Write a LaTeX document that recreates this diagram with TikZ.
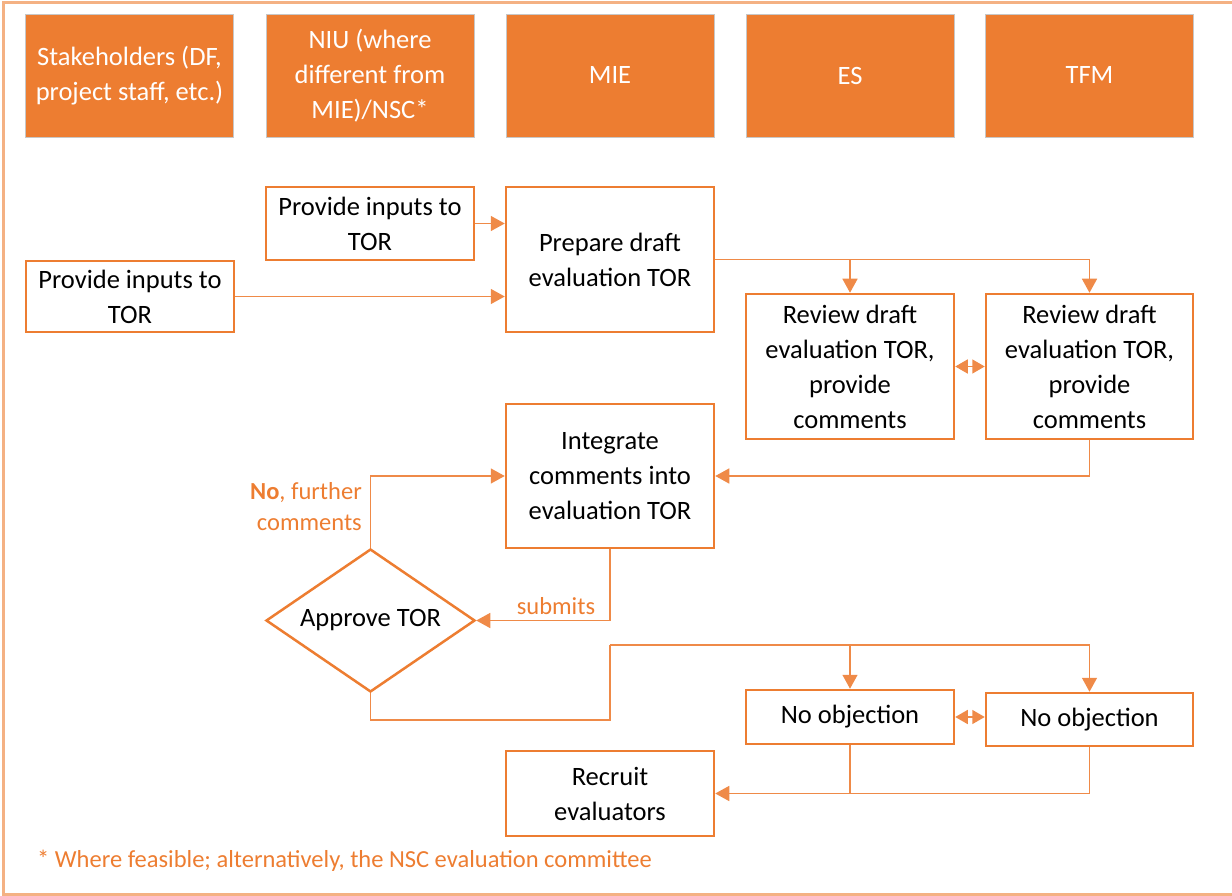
\documentclass[tikz,border=0pt]{standalone}
\usepackage{fontspec}
\setmainfont{Carlito}
\usetikzlibrary{arrows.meta,shapes.geometric}
\definecolor{accent}{HTML}{ED7D31}
\definecolor{framec}{HTML}{F4B183}
\definecolor{linec}{HTML}{EF8A48}
\begin{document}
\begin{tikzpicture}[x=1pt,y=-1pt,
  head/.style={fill=accent, draw=black!22, line width=0.8pt, minimum width=208pt,
    minimum height=123pt, inner sep=0pt, text=white, align=center,
    font=\fontsize{26.5}{35}\selectfont},
  stepbox/.style={draw=accent, line width=2.5pt, fill=white, minimum width=208pt,
    inner sep=0pt, align=center, font=\fontsize{26.5}{35}\selectfont},
  flow/.style={draw=linec, line width=1.5pt, -{Triangle[length=14pt,width=15pt]}},
  link/.style={draw=linec, line width=1.5pt},
  twoway/.style={draw=linec, line width=1.5pt,
    {Triangle[length=12.5pt,width=14pt]}-{Triangle[length=12.5pt,width=14pt]}},
  lbl/.style={text=accent, font=\fontsize{24.5}{31}\selectfont, inner sep=0pt}]

\useasboundingbox (0,0) rectangle (1232,896);
\draw[framec, line width=3pt] (3,3) rectangle (1245,894);

% swimlane headers
\node[head] (hStk) at (129.5,75.5) {Stakeholders (DF,\\project staff, etc.)};
\node[head] (hNiu) at (370,75.5) {NIU (where\\different from\\MIE)/NSC*};
\node[head] (hMie) at (610,75.5) {MIE};
\node[head] (hEs)  at (850,75.5) {ES};
\node[head] (hTfm) at (1089.5,75.5) {TFM};

% process steps
\node[stepbox, minimum height=73pt] (niuIn) at (370,223.5) {Provide inputs to\\TOR};
\node[stepbox, minimum height=71pt] (stkIn) at (130,296.5) {Provide inputs to\\TOR};
\node[stepbox, minimum height=145pt] (prep) at (610,259.5) {Prepare draft\\evaluation TOR};
\node[stepbox, minimum height=145pt] (revES) at (850,366.5) {Review draft\\evaluation TOR,\\provide\\comments};
\node[stepbox, minimum height=145pt, minimum width=207pt] (revTFM) at (1089.5,366.5) {Review draft\\evaluation TOR,\\provide\\comments};
\node[stepbox, minimum height=144pt] (integ) at (610,476) {Integrate\\comments into\\evaluation TOR};
\node[draw=accent, line width=2.5pt, fill=white, shape=diamond, shape aspect=1.46,
  minimum width=209pt, minimum height=143pt, inner sep=0pt,
  font=\fontsize{26.5}{35}\selectfont] (approve) at (370.5,620.5) {Approve TOR};
\node[stepbox, minimum height=54pt] (noES) at (850,717) {No objection};
\node[stepbox, minimum height=53pt, minimum width=207pt] (noTFM) at (1089.5,719.5) {No objection};
\node[stepbox, minimum height=85pt] (recruit) at (610,793.5) {Recruit\\evaluators};

% connectors
\draw[flow] (niuIn.east) -- (niuIn.east -| prep.west);
\draw[flow] (stkIn.east) -- (stkIn.east -| prep.west);
\draw[flow] (prep.east) -| (revES.north);
\draw[flow] (prep.east) -| (revTFM.north);
\draw[twoway] (revES.east) -- (revTFM.west);
\draw[flow] (revTFM.south) |- (integ.east);
\draw[flow] (integ.south) |- (approve.east);
\draw[flow] (approve.north) |- (integ.west);

\coordinate (bendLow) at (610,720);
\coordinate (split) at (610,645);
\draw[link] (approve.south) |- (bendLow) -- (split);
\draw[flow] (split) -| (noES.north);
\draw[flow] (split) -| (noTFM.north);
\draw[twoway] (noES.east) -- (noES.east -| noTFM.west);
\draw[flow] (noES.south) |- (recruit.east);
\draw[link] (noTFM.south) |- (recruit.east -| noES.south);

% labels
\node[lbl, align=right, anchor=east] (noLbl) at (362,507) {\textbf{No}, further\\comments};
\node[lbl] (subLbl) at (556,606) {submits};
\node[lbl, anchor=west] (note) at (37,861) {* Where feasible; alternatively, the NSC evaluation committee};
\end{tikzpicture}
\end{document}
